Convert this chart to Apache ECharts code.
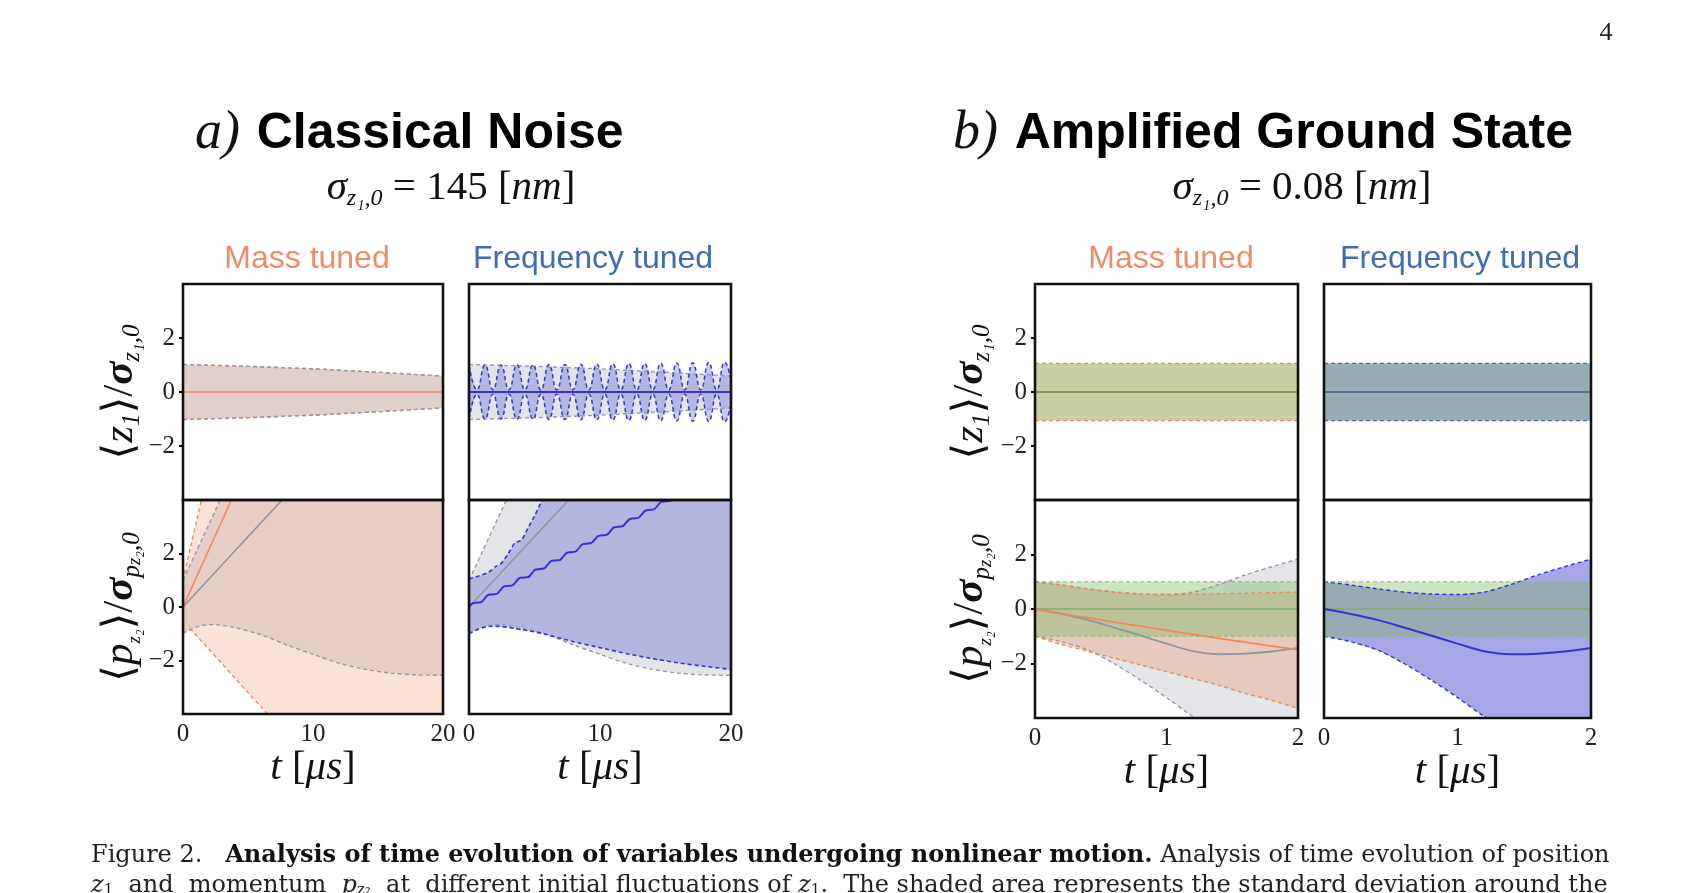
<!DOCTYPE html>
<html><head><meta charset="utf-8">
<script src="https://cdn.jsdelivr.net/npm/echarts@6/dist/echarts.min.js"></script>
<style>html,body{margin:0;padding:0;background:#fff}#c{width:1705px;height:893px}</style>
</head><body><div id="c"></div>
<script>
// ---------------- DATA ----------------
const yTicks = [-2, 0, 2];
const xTicksA = [0, 10, 20];
const xTicksB = [0, 1, 2];

// Panel a) Classical noise, time in μs
const aTopTime  = [0, 5, 10, 15, 20];
const aTopUpper = [1.02, 0.95, 0.86, 0.73, 0.59];
const aTopLower = [-1.02, -0.95, -0.86, -0.73, -0.59];
const aTopMean  = [0, 0, 0, 0, 0];

const aOscTime  = [0,0.61,1.22,1.83,2.44,3.05,3.66,4.27,4.88,5.49,6.10,6.71,7.32,7.93,8.54,9.15,9.76,10.37,10.98,11.59,12.20,12.81,13.42,14.03,14.64,15.25,15.86,16.47,17.08,17.69,18.30,18.91,19.52,20];
const aOscUpper = [1.00,0.08,1.00,0.08,1.00,0.08,1.01,0.08,1.01,0.08,1.02,0.08,1.02,0.08,1.03,0.08,1.03,0.08,1.04,0.08,1.05,0.08,1.05,0.08,1.06,0.08,1.07,0.08,1.08,0.08,1.09,0.08,1.10,0.45];
const aOscLower = [-1.00,-0.08,-1.00,-0.08,-1.00,-0.08,-1.01,-0.08,-1.01,-0.08,-1.02,-0.08,-1.02,-0.08,-1.03,-0.08,-1.03,-0.08,-1.04,-0.08,-1.05,-0.08,-1.05,-0.08,-1.06,-0.08,-1.07,-0.08,-1.08,-0.08,-1.09,-0.08,-1.10,-0.45];

const aGrayTime  = [0, 0.5, 1, 1.5, 2, 2.5, 3, 4, 6, 8, 10, 12, 14, 16, 18, 20];
const aGrayLower = [-1.0, -0.85, -0.75, -0.69, -0.66, -0.66, -0.69, -0.77, -1.04, -1.42, -1.77, -2.1, -2.33, -2.47, -2.54, -2.55];
const aGrayUpper = [1.0, 1.52, 2.05, 2.58, 3.1, 3.62, 4.15, 5.2, 7.3, 9.4, 11.5, 13.6, 15.7, 17.8, 19.9, 22.0];
const aMeanTime  = [0, 4, 8, 12, 16, 20];
const aGrayMean  = [0, 2.1, 4.2, 6.3, 8.4, 10.5];

const aMassTime  = [0, 0.3, 0.6, 1, 1.5, 2, 3, 4, 5, 6, 7, 8, 10, 12, 14, 16, 18, 20];
const aMassLower = [-1.0, -0.9, -0.86, -1.05, -1.32, -1.58, -2.12, -2.66, -3.2, -3.73, -4.27, -4.8, -5.9, -7.0, -8.1, -9.2, -10.3, -11.4];
const aMassUpper = [1.0, 1.64, 2.28, 3.13, 4.2, 5.26, 7.4, 9.5, 11.6, 13.7, 15.8, 17.9, 22.0, 26.1, 30.2, 34.3, 38.4, 42.5];
const aMassMean  = [0, 4.3, 8.6, 12.9, 17.2, 21.5];

const aFreqTime  = [0, 0.5, 1, 1.5, 2, 2.5, 3, 3.5, 4, 4.5, 5, 5.5, 6, 7, 8, 10, 12, 14, 16, 18, 20];
const aFreqUpper = [1.05, 1.12, 1.2, 1.3, 1.5, 1.65, 2.0, 2.4, 2.5, 2.95, 3.4, 3.9, 4.3, 4.9, 5.5, 6.7, 7.9, 9.1, 10.3, 11.5, 12.7];
const aFreqLower = [-1.0, -0.88, -0.78, -0.73, -0.72, -0.73, -0.76, -0.8, -0.84, -0.88, -0.93, -0.98, -1.04, -1.17, -1.3, -1.52, -1.74, -1.93, -2.09, -2.22, -2.33];
const aFreqMeanTime = [0,0.3,0.6,0.9,1.2,1.5,1.8,2.1,2.4,2.7,3.0,3.3,3.6,3.9,4.2,4.5,4.8,5.1,5.4,5.7,6.0,6.3,6.6,6.9,7.2,7.5,7.8,8.1,8.4,8.7,9.0,9.3,9.6,9.9,10.2,10.5,10.8,11.1,11.4,11.7,12.0,12.3,12.6,12.9,13.2,13.5,13.8,14.1,14.4,14.7,15.0,15.3,15.6,15.9,16.2,20];
const aFreqMean     = [0,0.14,0.16,0.18,0.32,0.46,0.47,0.49,0.63,0.77,0.79,0.81,0.95,1.09,1.10,1.12,1.26,1.40,1.42,1.44,1.58,1.72,1.74,1.75,1.89,2.03,2.05,2.07,2.21,2.35,2.37,2.39,2.52,2.66,2.68,2.70,2.84,2.98,3.00,3.02,3.16,3.29,3.31,3.33,3.47,3.61,3.63,3.65,3.79,3.93,3.95,3.96,4.10,4.24,4.26,5.26];

// Panel b) Amplified ground state, time in μs
const bTopTime  = [0, 2];
const bTopUpper = [1.06, 1.06];
const bTopLower = [-1.06, -1.06];
const bTopMean  = [0, 0];
const bGreenUpper = [1.0, 1.0];
const bGreenLower = [-1.0, -1.0];
const bGreenMean  = [0, 0];

const bTime       = [0, 0.2, 0.4, 0.6, 0.8, 1.0, 1.2, 1.4, 1.6, 1.8, 2.0];
const bQuantUpper = [1.0, 0.88, 0.74, 0.62, 0.55, 0.53, 0.62, 0.9, 1.25, 1.55, 1.83];
const bQuantLower = [-1.0, -1.2, -1.5, -2.0, -2.6, -3.25, -3.95, -4.6, -5.2, -5.7, -6.1];
const bQuantMean  = [0, -0.18, -0.4, -0.68, -0.97, -1.27, -1.55, -1.66, -1.64, -1.56, -1.43];
const bMassUpper  = [1.0, 0.88, 0.74, 0.63, 0.56, 0.53, 0.54, 0.56, 0.58, 0.6, 0.62];
const bMassLower  = [-1.0, -1.3, -1.55, -1.8, -2.05, -2.3, -2.55, -2.8, -3.1, -3.35, -3.65];
const bMassMean   = [0, -0.16, -0.32, -0.48, -0.63, -0.78, -0.93, -1.08, -1.22, -1.36, -1.5];

// ---------------- STYLE ----------------
const SERIF = "'Liberation Serif','DejaVu Serif',serif";
const CAPSERIF = "'DejaVu Serif','Liberation Serif',serif";
const SANS = "'Liberation Sans',Arial,sans-serif";
const C = {
  orange: '#ef8a5e', orangeFill: 'rgba(240,138,93,0.25)', orangeFillB: 'rgba(240,138,93,0.30)',
  gray: '#8f969e', grayDash: '#959ba3', grayFill: 'rgba(150,160,175,0.27)',
  blue: '#3434d2', blueFill: 'rgba(60,60,200,0.28)', blueFillB: 'rgba(60,60,200,0.45)',
  green: '#7fae68', greenDash: '#84bd70', greenFill: 'rgba(120,185,95,0.38)',
  olive: '#7f9a5c', slate: '#3e5c7a'
};

const grids = [
  {left: 183, top: 284, width: 260, height: 216},
  {left: 183, top: 500, width: 260, height: 214},
  {left: 469, top: 284, width: 262, height: 216},
  {left: 469, top: 500, width: 262, height: 214},
  {left: 1035, top: 284, width: 263, height: 216},
  {left: 1035, top: 500, width: 263, height: 218},
  {left: 1324, top: 284, width: 267, height: 216},
  {left: 1324, top: 500, width: 267, height: 218}
];

function pairs(t, v) { return t.map((x, i) => [x, v[i]]); }

function bandFill(gi, t, lower, upper, fill, smooth) {
  return {type: 'custom', xAxisIndex: gi, yAxisIndex: gi, silent: true, clip: true, z: 1,
    data: t.map((x, i) => [x, lower[i], upper[i]]),
    encode: {x: 0, y: [1, 2]},
    renderItem: function (params, api) {
      if (params.dataIndex !== 0) return null;
      const pts = [];
      for (let i = 0; i < t.length; i++) pts.push(api.coord([t[i], upper[i]]));
      for (let i = t.length - 1; i >= 0; i--) pts.push(api.coord([t[i], lower[i]]));
      return {type: 'polygon', shape: {points: pts, smooth: smooth || 0},
        style: {fill: fill, stroke: null}};
    }};
}
function line(gi, t, v, color, smooth, w, dashed) {
  return {type: 'line', xAxisIndex: gi, yAxisIndex: gi, symbol: 'none', data: pairs(t, v),
    smooth: smooth === undefined ? 0.3 : smooth, silent: true, clip: true, z: 3,
    lineStyle: {color: color, width: w || 1.6, type: dashed ? [4, 3] : 'solid'}};
}
function band(gi, t, lower, upper, lineColor, fill, smooth, lw, polySmooth) {
  return [bandFill(gi, t, lower, upper, fill, polySmooth),
    line(gi, t, lower, lineColor, smooth, lw || 1.4, true),
    line(gi, t, upper, lineColor, smooth, lw || 1.4, true)];
}

const nameRich = {
  n: {fontFamily: SERIF, fontSize: 43, color: '#111', lineHeight: 48},
  m: {fontFamily: SERIF, fontStyle: 'italic', fontSize: 43, color: '#111', lineHeight: 48},
  b: {fontFamily: SERIF, fontStyle: 'italic', fontWeight: 'bold', fontSize: 43, color: '#111', lineHeight: 48},
  s: {fontFamily: SERIF, fontStyle: 'italic', fontSize: 25, color: '#111', verticalAlign: 'bottom', lineHeight: 24},
  ss: {fontFamily: SERIF, fontStyle: 'italic', fontSize: 19, color: '#111', verticalAlign: 'bottom', lineHeight: 15}
};
const tRich = {
  n: {fontFamily: SERIF, fontSize: 41, color: '#111', lineHeight: 46},
  m: {fontFamily: SERIF, fontStyle: 'italic', fontSize: 41, color: '#111', lineHeight: 46}
};
const zName = '{n|⟨}{m|z}{s|1}{n|⟩/}{b|σ}{s|z₁,0}';
const pName = '{n|⟨}{m|p}{ss|z₂}{n|⟩/}{b|σ}{s|p}{ss|z₂}{s|,0}';
const tName = '{m|t}{n| [}{m|μs}{n|]}';

function xAx(gi, max, interval, bottom) {
  return {type: 'value', gridIndex: gi, min: 0, max: max, interval: interval,
    axisLine: {show: false}, axisTick: {show: false}, splitLine: {show: false},
    axisLabel: {show: bottom, fontFamily: SERIF, fontSize: 25, color: '#222', margin: 8},
    name: bottom ? tName : '', nameLocation: 'middle', nameGap: 25,
    nameTextStyle: {rich: tRich}};
}
function yAx(gi, left, name, gap) {
  return {type: 'value', gridIndex: gi, min: -4, max: 4, interval: 2,
    axisLine: {show: false}, splitLine: {show: false},
    axisTick: {show: left, length: 4, customValues: yTicks, lineStyle: {color: '#000', width: 2}},
    axisLabel: {show: left, customValues: yTicks, fontFamily: SERIF, fontSize: 25, color: '#222', margin: 8,
      formatter: v => String(v).replace('-', '−')},
    name: left ? name : '', nameLocation: 'middle', nameRotate: 90, nameGap: gap,
    nameTextStyle: {rich: nameRich}};
}

const series = [].concat(
  // a mass top
  band(0, aTopTime, aTopLower, aTopUpper, C.orange, C.orangeFill, 0),
  band(0, aTopTime, aTopLower, aTopUpper, C.grayDash, C.grayFill, 0),
  [line(0, aTopTime, aTopMean, C.orange, 0)],
  // a mass bottom
  band(1, aGrayTime, aGrayLower, aGrayUpper, C.grayDash, C.grayFill),
  band(1, aMassTime, aMassLower, aMassUpper, C.orange, C.orangeFill),
  [line(1, aMeanTime, aGrayMean, C.gray, 0), line(1, aMeanTime, aMassMean, C.orange, 0)],
  // a freq top
  band(2, aTopTime, aTopLower, aTopUpper, C.grayDash, C.grayFill, 0),
  band(2, aOscTime, aOscLower, aOscUpper, C.blue, C.blueFill, 0.5, 1.5, 0.5),
  [line(2, aTopTime, aTopMean, C.blue, 0, 2)],
  // a freq bottom
  band(3, aGrayTime, aGrayLower, aGrayUpper, C.grayDash, C.grayFill),
  band(3, aFreqTime, aFreqLower, aFreqUpper, C.blue, C.blueFill, 0.2, 1.6),
  [line(3, aMeanTime, aGrayMean, C.gray, 0), line(3, aFreqMeanTime, aFreqMean, C.blue, 0.5, 2)],
  // b mass top
  band(4, bTopTime, bTopLower, bTopUpper, C.orange, C.orangeFillB, 0),
  [bandFill(4, bTopTime, bTopLower, bTopUpper, C.greenFill)],
  [line(4, bTopTime, bTopMean, C.olive, 0, 1.8)],
  // b mass bottom
  band(5, bTime, bQuantLower, bQuantUpper, C.grayDash, C.grayFill),
  band(5, bTime, bMassLower, bMassUpper, C.orange, C.orangeFillB),
  band(5, bTopTime, bGreenLower, bGreenUpper, C.greenDash, C.greenFill, 0, 1),
  [line(5, bTopTime, bGreenMean, C.green, 0, 1.4), line(5, bTime, bQuantMean, C.gray, 0.3, 1.8), line(5, bTime, bMassMean, C.orange, 0.3, 1.8)],
  // b freq top
  band(6, bTopTime, bTopLower, bTopUpper, '#5a5ac8', C.blueFillB, 0),
  [bandFill(6, bTopTime, bTopLower, bTopUpper, C.greenFill)],
  [line(6, bTopTime, bTopMean, C.slate, 0, 1.6)],
  // b freq bottom
  band(7, bTime, bQuantLower, bQuantUpper, C.blue, C.blueFillB),
  band(7, bTopTime, bGreenLower, bGreenUpper, C.greenDash, C.greenFill, 0, 1),
  [line(7, bTopTime, bGreenMean, C.green, 0, 1.4), line(7, bTime, bQuantMean, C.blue, 0.3, 2)]
);

const xAxes = [
  xAx(0, 20, 10, false), xAx(1, 20, 10, true), xAx(2, 20, 10, false), xAx(3, 20, 10, true),
  xAx(4, 2, 1, false), xAx(5, 2, 1, true), xAx(6, 2, 1, false), xAx(7, 2, 1, true)
];
const yAxes = [
  yAx(0, true, zName, 36), yAx(1, true, pName, 36), yAx(2, false, '', 0), yAx(3, false, '', 0),
  yAx(4, true, zName, 40), yAx(5, true, pName, 40), yAx(6, false, '', 0), yAx(7, false, '', 0)
];

const frames = grids.map(g => ({type: 'rect', z: 100, silent: true,
  shape: {x: g.left, y: g.top, width: g.width, height: g.height},
  style: {fill: 'none', stroke: '#111', lineWidth: 2.6}}));

function txt(x, y, text, rich, align) {
  return {type: 'text', x: x, y: y, z: 100, silent: true,
    style: {text: text, rich: rich, align: align || 'center', verticalAlign: 'middle'}};
}
const titleRich = {
  i: {fontFamily: SERIF, fontStyle: 'italic', fontSize: 54, fill: '#111'},
  sp: {fontFamily: SANS, fontSize: 30, fill: '#000'},
  b: {fontFamily: SANS, fontWeight: 'bold', fontSize: 50, fill: '#000'}
};
const subRich = {
  m: {fontFamily: SERIF, fontStyle: 'italic', fontSize: 41, fill: '#111', lineHeight: 46},
  n: {fontFamily: SERIF, fontSize: 41, fill: '#111', lineHeight: 46},
  s: {fontFamily: SERIF, fontStyle: 'italic', fontSize: 24, fill: '#111', verticalAlign: 'bottom', lineHeight: 22}
};
const colRich = {
  o: {fontFamily: SANS, fontSize: 32, fill: '#ee8c66'},
  b: {fontFamily: SANS, fontSize: 32, fill: '#3f6cb4'}
};
const capRich = {
  n: {fontFamily: CAPSERIF, fontSize: 24, fill: '#222'},
  b: {fontFamily: CAPSERIF, fontSize: 24, fontWeight: 'bold', fill: '#111'},
  m: {fontFamily: CAPSERIF, fontSize: 24, fontStyle: 'italic', fill: '#222'},
  s: {fontFamily: CAPSERIF, fontSize: 15, fill: '#222', verticalAlign: 'bottom', lineHeight: 20}
};
const pageRich = {n: {fontFamily: SERIF, fontSize: 26, fill: '#222'}};

const graphics = frames.concat([
  txt(1606, 33, '{n|4}', pageRich),
  txt(195, 134, '{i|a)}{sp|  }{b|Classical Noise}', titleRich, 'left'),
  txt(953, 134, '{i|b)}{sp|  }{b|Amplified Ground State}', titleRich, 'left'),
  txt(451, 188, '{m|σ}{s|z₁,0}{n| = 145 [}{m|nm}{n|]}', subRich),
  txt(1302, 188, '{m|σ}{s|z₁,0}{n| = 0.08 [}{m|nm}{n|]}', subRich),
  txt(307, 259, '{o|Mass tuned}', colRich),
  txt(593, 259, '{b|Frequency tuned}', colRich),
  txt(1171, 259, '{o|Mass tuned}', colRich),
  txt(1460, 259, '{b|Frequency tuned}', colRich),
  txt(91, 856, '{n|Figure 2.}{n|   }{b|Analysis of time evolution of variables undergoing nonlinear motion.}{n| Analysis of time evolution of position}', capRich, 'left'),
  txt(91, 886, '{m|z}{s|1}{n|  and  momentum  }{m|p}{s|z₂}{n|  at  different initial fluctuations of }{m|z}{s|1}{n|.  The shaded area represents the standard deviation around the}', capRich, 'left')
]);

const chart = echarts.init(document.getElementById('c'));
chart.setOption({
  animation: false,
  backgroundColor: '#fff',
  textStyle: {fontFamily: SERIF},
  grid: grids.map(g => Object.assign({containLabel: false}, g)),
  xAxis: xAxes,
  yAxis: yAxes,
  series: series,
  graphic: graphics
});
</script></body></html>
